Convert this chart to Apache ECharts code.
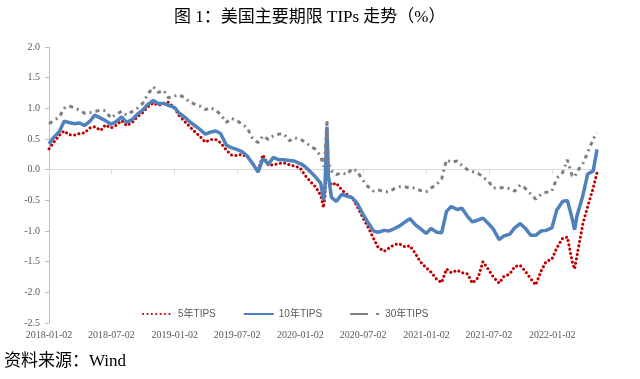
<!DOCTYPE html>
<html>
<head>
<meta charset="utf-8">
<script src="https://cdn.jsdelivr.net/npm/echarts@6/dist/echarts.min.js"></script>
<style>html,body{margin:0;padding:0;background:#fff;}#c{width:640px;height:379px;}</style>
</head>
<body>
<div id="c"></div>
<script>
// ---- data ----
const dates = [
'2018-01-02','2018-01-15','2018-02-01','2018-02-15','2018-03-01','2018-03-15','2018-04-01','2018-04-15','2018-05-01','2018-05-15',
'2018-06-01','2018-06-15','2018-07-01','2018-07-15','2018-08-01','2018-08-15','2018-09-01','2018-09-15','2018-10-01','2018-10-15',
'2018-11-01','2018-11-15','2018-12-01','2018-12-15','2019-01-02','2019-01-15','2019-02-01','2019-02-15','2019-03-01','2019-03-15',
'2019-04-01','2019-04-15','2019-05-01','2019-05-15','2019-06-01','2019-06-15','2019-07-01','2019-07-15','2019-08-01','2019-08-15',
'2019-09-01','2019-09-15','2019-10-01','2019-10-15','2019-11-01','2019-11-15','2019-12-01','2019-12-15','2020-01-01','2020-01-15',
'2020-02-01','2020-02-15','2020-03-01','2020-03-09','2020-03-13','2020-03-19','2020-03-23','2020-04-01','2020-04-15','2020-05-01',
'2020-05-15','2020-06-01','2020-06-15','2020-07-01','2020-07-15','2020-08-01','2020-08-15','2020-09-01','2020-09-15','2020-10-01',
'2020-10-15','2020-11-01','2020-11-15','2020-12-01','2020-12-15','2021-01-01','2021-01-15','2021-02-01','2021-02-15','2021-03-01',
'2021-03-15','2021-04-01','2021-04-15','2021-05-01','2021-05-15','2021-06-01','2021-06-15','2021-07-01','2021-07-15','2021-08-01',
'2021-08-15','2021-09-01','2021-09-15','2021-10-01','2021-10-15','2021-11-01','2021-11-15','2021-12-01','2021-12-15','2022-01-01',
'2022-01-15','2022-02-01','2022-02-15','2022-03-01','2022-03-08','2022-03-15','2022-04-01','2022-04-15','2022-05-01','2022-05-12'
];
const tips5 = [
0.34,0.44,0.56,0.63,0.57,0.56,0.59,0.60,0.68,0.70,
0.64,0.73,0.68,0.72,0.80,0.72,0.77,0.86,0.93,1.02,
1.09,1.05,1.08,1.10,1.00,0.88,0.78,0.70,0.62,0.55,
0.45,0.49,0.49,0.44,0.32,0.24,0.23,0.25,0.21,0.11,
-0.02,0.24,0.07,0.08,0.10,0.11,0.08,0.06,0.03,-0.09,
-0.20,-0.28,-0.42,-0.62,-0.45,0.20,-0.15,-0.25,-0.22,-0.33,
-0.40,-0.46,-0.60,-0.78,-0.92,-1.12,-1.27,-1.33,-1.28,-1.22,
-1.21,-1.26,-1.24,-1.37,-1.50,-1.60,-1.67,-1.79,-1.84,-1.62,
-1.68,-1.64,-1.68,-1.70,-1.85,-1.76,-1.50,-1.63,-1.75,-1.85,
-1.74,-1.70,-1.58,-1.56,-1.65,-1.78,-1.88,-1.65,-1.50,-1.46,
-1.28,-1.12,-1.10,-1.50,-1.62,-1.40,-0.88,-0.60,-0.30,-0.05
];
const tips10 = [
0.42,0.52,0.62,0.79,0.77,0.75,0.76,0.72,0.79,0.89,
0.84,0.80,0.74,0.78,0.86,0.77,0.82,0.90,0.97,1.06,
1.13,1.08,1.08,1.05,1.01,0.92,0.85,0.78,0.72,0.66,
0.58,0.61,0.63,0.59,0.40,0.36,0.33,0.30,0.22,0.11,
-0.04,0.18,0.09,0.20,0.16,0.16,0.15,0.14,0.10,0.05,
-0.04,-0.12,-0.22,-0.50,-0.30,0.70,-0.10,-0.45,-0.52,-0.40,
-0.43,-0.46,-0.55,-0.72,-0.85,-1.00,-1.02,-0.99,-1.00,-0.96,
-0.92,-0.85,-0.80,-0.90,-0.96,-1.04,-0.96,-1.02,-1.03,-0.68,
-0.60,-0.65,-0.63,-0.76,-0.85,-0.82,-0.79,-0.88,-0.97,-1.14,
-1.08,-1.05,-0.95,-0.88,-0.95,-1.07,-1.07,-1.00,-0.99,-0.95,
-0.66,-0.52,-0.50,-0.80,-0.98,-0.75,-0.42,-0.07,-0.02,0.33
];
const tips30 = [
0.75,0.80,0.86,1.00,1.04,1.01,0.97,0.92,0.93,0.95,
0.97,0.96,0.84,0.90,0.95,0.89,0.95,1.00,1.08,1.22,
1.35,1.26,1.29,1.17,1.20,1.22,1.17,1.10,1.07,1.04,
0.98,1.01,0.97,0.90,0.77,0.84,0.80,0.75,0.68,0.52,
0.44,0.55,0.49,0.55,0.58,0.58,0.47,0.52,0.50,0.45,
0.38,0.33,0.22,0.05,0.20,0.80,0.10,-0.02,-0.08,-0.05,
-0.08,0.02,-0.03,-0.17,-0.27,-0.35,-0.33,-0.36,-0.36,-0.31,
-0.28,-0.28,-0.30,-0.30,-0.34,-0.36,-0.30,-0.24,-0.15,0.16,
0.12,0.14,0.07,0.00,-0.03,-0.06,-0.12,-0.19,-0.30,-0.30,
-0.29,-0.31,-0.35,-0.25,-0.30,-0.40,-0.48,-0.40,-0.37,-0.35,
-0.14,-0.05,0.16,-0.10,-0.12,-0.03,0.10,0.28,0.50,0.60
];
const seriesNames = ['5年TIPS','10年TIPS','30年TIPS'];
const tickLabels = ['2018-01-02','2018-07-02','2019-01-02','2019-07-02','2020-01-02','2020-07-02','2021-01-02','2021-07-02','2022-01-02'];
const xMin = '2018-01-02';
const xMax = '2022-05-12';

// ---- chart ----
const toTs = s => echarts.number.parseDate(s).getTime();
const tickValues = tickLabels.map(toTs);
const pair = arr => dates.map((d, i) => [toTs(d), arr[i]]);
const axisGray = '#BFBFBF';
const labelGray = '#595959';
const serif = '"Liberation Serif","Times New Roman","Noto Sans CJK SC",serif';
const sans = '"Liberation Sans","Noto Sans CJK SC",sans-serif';
const labelFor = v => { const i = tickValues.indexOf(v); return i >= 0 ? tickLabels[i] : ''; };

const chart = echarts.init(document.getElementById('c'), null, {renderer: 'canvas'});
chart.setOption({
  animation: false,
  backgroundColor: '#ffffff',
  title: {
    text: '图 1：美国主要期限 TIPs 走势（%）',
    left: 169, top: 4,
    textStyle: {fontSize: 17, fontWeight: 'normal', color: '#000', fontFamily: serif}
  },
  grid: {left: 49, right: 43, top: 47, bottom: 56, containLabel: false},
  legend: {
    left: 137, top: 304,
    itemWidth: 30, itemHeight: 10, itemGap: 27,
    itemStyle: {opacity: 0},
    textStyle: {fontSize: 10, color: labelGray, fontFamily: sans},
    data: [
      {name: seriesNames[0]},
      {name: seriesNames[1]},
      {name: seriesNames[2], lineStyle: {type: [18, 8, 3, 8], cap: 'butt'}}
    ]
  },
  xAxis: [
    {
      type: 'value', min: toTs(xMin), max: toTs(xMax), position: 'bottom',
      axisLine: {show: false, onZero: false},
      axisTick: {show: false},
      splitLine: {show: false},
      axisLabel: {
        customValues: tickValues,
        margin: 7,
        fontSize: 10, color: labelGray, fontFamily: serif,
        hideOverlap: false,
        formatter: labelFor
      }
    },
    {
      type: 'value', min: toTs(xMin), max: toTs(xMax), position: 'bottom',
      axisLine: {show: true, onZero: true, lineStyle: {color: '#D9D9D9', width: 1}},
      axisTick: {show: true, inside: false, length: 4, customValues: tickValues, lineStyle: {color: '#D9D9D9'}},
      axisLabel: {show: false},
      splitLine: {show: false}
    }
  ],
  yAxis: {
    type: 'value', min: -2.5, max: 2.0, interval: 0.5,
    axisLine: {show: true, lineStyle: {color: axisGray, width: 1}},
    axisTick: {show: true, inside: false, length: 4, lineStyle: {color: axisGray}},
    splitLine: {show: false},
    axisLabel: {
      margin: 9, fontSize: 10, color: labelGray, fontFamily: serif,
      formatter: v => v.toFixed(1)
    }
  },
  series: [
    {
      name: seriesNames[0], type: 'line', xAxisIndex: 0, data: pair(tips5),
      symbol: 'none', smooth: false, color: '#C00000',
      lineStyle: {color: '#C00000', width: 3, type: [0.1, 4.3], cap: 'round'}
    },
    {
      name: seriesNames[1], type: 'line', xAxisIndex: 0, data: pair(tips10),
      symbol: 'none', smooth: false, color: '#4F81BD',
      lineStyle: {color: '#4F81BD', width: 3.5, type: 'solid'}
    },
    {
      name: seriesNames[2], type: 'line', xAxisIndex: 0, data: pair(tips30),
      symbol: 'none', smooth: false, color: '#7F7F7F',
      lineStyle: {color: '#7F7F7F', width: 3, type: [4, 4, 2, 4], cap: 'butt'}
    }
  ],
  graphic: [
    {
      type: 'text', left: 4, top: 353,
      style: {text: '资料来源：Wind', fontSize: 17, fill: '#000', fontFamily: serif}
    }
  ]
});
</script>
</body>
</html>
